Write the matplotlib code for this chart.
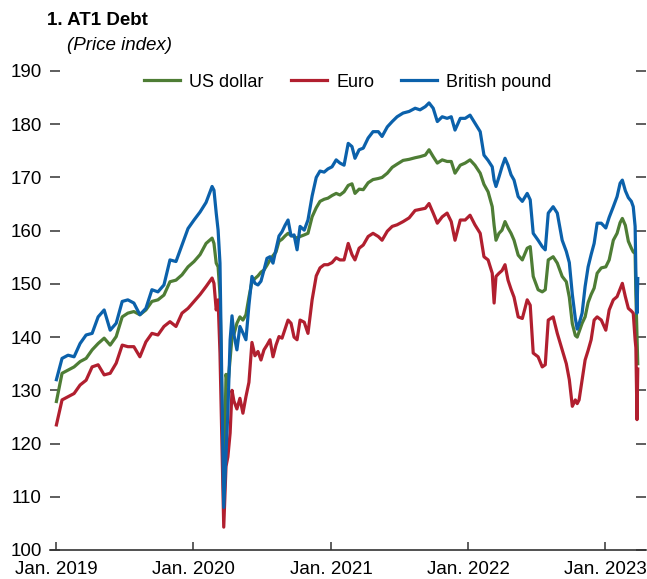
import matplotlib
matplotlib.use("Agg")
import matplotlib.pyplot as plt
import matplotlib.dates as mdates
import pandas as pd

plt.rcParams['font.family'] = ['Liberation Sans Narrow', 'Liberation Sans', 'DejaVu Sans']

# AT1 debt price index
dates = [
    "2019-01-02", "2019-01-17", "2019-02-02", "2019-02-18", "2019-03-06", "2019-03-22",
    "2019-04-07", "2019-04-23", "2019-05-09", "2019-05-25", "2019-06-10", "2019-06-26",
    "2019-07-11", "2019-07-27", "2019-08-12", "2019-08-28", "2019-09-13", "2019-09-29",
    "2019-10-15", "2019-10-31", "2019-11-16", "2019-12-02", "2019-12-18", "2020-01-03",
    "2020-01-19",
    "2020-02-04", "2020-02-20", "2020-02-25", "2020-03-02", "2020-03-07", "2020-03-12",
    "2020-03-22", "2020-03-28", "2020-04-02", "2020-04-08", "2020-04-13", "2020-04-18",
    "2020-04-26", "2020-05-04", "2020-05-12", "2020-05-20", "2020-05-28", "2020-06-05",
    "2020-06-13", "2020-06-21", "2020-06-29", "2020-07-07", "2020-07-15", "2020-07-23",
    "2020-07-31", "2020-08-08", "2020-08-16", "2020-08-24", "2020-09-01", "2020-09-09",
    "2020-09-17", "2020-09-25", "2020-10-03", "2020-10-11", "2020-10-22", "2020-11-01",
    "2020-11-12", "2020-11-23", "2020-12-03", "2020-12-14", "2020-12-24", "2021-01-04",
    "2021-01-15", "2021-01-25",
    "2021-02-05", "2021-02-16", "2021-02-26", "2021-03-06", "2021-03-17", "2021-03-28",
    "2021-04-10", "2021-04-23", "2021-05-07", "2021-05-17", "2021-05-31", "2021-06-13",
    "2021-06-26", "2021-07-12", "2021-07-28", "2021-08-13", "2021-08-26", "2021-09-09",
    "2021-09-19", "2021-09-30", "2021-10-11", "2021-10-24", "2021-11-06", "2021-11-17",
    "2021-11-27", "2021-12-11", "2021-12-24", "2022-01-06", "2022-01-19", "2022-02-02",
    "2022-02-12", "2022-02-23", "2022-03-06", "2022-03-11", "2022-03-16", "2022-03-24",
    "2022-04-01", "2022-04-09", "2022-04-17", "2022-04-25", "2022-05-03", "2022-05-14",
    "2022-05-25", "2022-06-07", "2022-06-15", "2022-06-23", "2022-07-06", "2022-07-17",
    "2022-07-25", "2022-08-02", "2022-08-15", "2022-08-26", "2022-09-08", "2022-09-19",
    "2022-09-27", "2022-10-05", "2022-10-13", "2022-10-18", "2022-10-23", "2022-10-31",
    "2022-11-08", "2022-11-16", "2022-11-24", "2022-12-02", "2022-12-10", "2022-12-21",
    "2023-01-02", "2023-01-11", "2023-01-22", "2023-02-01", "2023-02-09", "2023-02-15",
    "2023-02-23", "2023-03-03", "2023-03-11", "2023-03-16", "2023-03-21", "2023-03-23",
    "2023-03-26", "2023-03-28",
]

gbp = [
    132.0, 136.0, 136.6, 136.3, 138.8, 140.4, 140.7, 143.8, 145.1, 141.3, 142.6, 146.7,
    147.0, 146.4, 144.2, 145.4, 148.9, 148.5, 149.8, 154.5, 154.2, 157.3, 160.4, 162.0,
    163.5,
    165.3, 168.3, 167.6, 163.3, 160.1, 153.9, 108.0, 118.0, 126.0, 139.5, 144.0, 140.5,
    137.6, 142.0, 140.8, 139.5, 146.0, 151.4, 150.1, 149.8, 150.5, 152.6, 154.8, 155.1,
    153.9, 156.5, 159.0, 159.8, 161.0, 162.0, 159.0, 159.2, 156.4, 160.8, 160.1, 162.0,
    166.5, 170.0, 171.2, 171.0, 171.6, 172.0, 173.3, 172.7,
    172.3, 176.4, 175.8, 173.6, 175.2, 175.5, 177.4, 178.6, 178.6, 177.7, 179.5, 180.5,
    181.4, 182.1, 182.4, 183.0, 182.7, 183.3, 184.0, 183.0, 180.5, 181.4, 181.1, 181.4,
    178.9, 181.1, 181.1, 181.7, 180.2, 178.6,
    174.2, 173.2, 172.0, 169.5, 168.3, 170.1, 172.0, 173.6, 172.3, 170.5, 169.5, 166.4,
    165.5, 167.0, 165.8, 159.5, 158.2, 157.0, 156.4, 163.3, 164.5, 163.3, 158.2, 156.1,
    154.0, 148.0, 143.5, 141.5, 142.5, 144.5, 149.5, 153.2, 155.5, 157.6, 161.4, 161.4,
    160.5, 162.5, 164.5, 166.4, 168.9, 169.5, 167.5, 166.2, 165.5, 164.5, 160.8, 152.0,
    144.5, 151.0,
]

usd = [
    127.9, 133.2, 133.8, 134.4, 135.4, 136.0, 137.6, 138.8, 139.8, 138.5, 140.1, 143.8,
    144.5, 144.8, 144.2, 145.1, 146.7, 147.0, 147.9, 150.4, 150.7, 151.7, 153.2, 154.2,
    155.5,
    157.6, 158.6, 157.6, 153.9, 153.2, 148.0, 109.5, 133.0, 131.0, 136.0, 140.0, 140.5,
    142.6, 143.8, 143.2, 144.2, 147.5, 150.4, 151.0, 151.5, 152.2, 152.6, 153.5, 154.5,
    155.3, 156.0, 158.0, 158.4, 159.0, 159.5, 159.1, 158.9, 158.6, 158.9, 159.2, 159.5,
    162.6, 164.3, 165.5, 165.9, 166.1, 166.6, 167.0, 166.7,
    167.3, 168.5, 168.8, 167.0, 167.8, 167.7, 169.0, 169.6, 169.8, 170.0, 170.8, 171.9,
    172.5, 173.2, 173.4, 173.7, 173.9, 174.2, 175.2, 173.9, 172.7, 173.3, 173.0, 173.0,
    170.8, 172.3, 172.7, 173.3, 172.3, 170.8,
    168.7, 167.3, 164.5, 161.0, 158.2, 159.5, 160.1, 161.7, 160.5, 159.5, 158.2, 155.4,
    154.5, 156.7, 157.0, 151.4, 148.9, 148.5, 148.9, 154.5, 155.1, 153.9, 151.4, 150.4,
    147.5, 142.5, 140.3, 140.0, 141.0, 142.6, 143.8, 146.5, 148.0, 149.2, 152.0, 153.0,
    153.2, 154.5, 158.2, 159.5, 161.5, 162.3, 161.0, 158.0, 156.7, 156.0, 155.7, 148.0,
    140.0, 135.0,
]

eur = [
    123.5, 128.2, 128.8, 129.4, 131.0, 131.9, 134.4, 134.8, 132.9, 133.2, 135.1, 138.5,
    138.2, 138.2, 136.3, 139.1, 140.7, 140.4, 142.0, 142.9, 142.0, 144.5, 145.4, 146.7,
    148.0,
    149.5, 151.1, 150.1, 145.1, 147.0, 137.0, 104.3, 115.7, 117.5, 122.0, 130.0, 128.0,
    126.5, 128.5, 125.7, 128.8, 131.5, 139.0, 136.5, 137.3, 135.7, 137.6, 138.5, 139.5,
    136.3, 138.5, 140.1, 139.8, 141.5, 143.2, 142.6, 140.0, 139.5, 143.2, 142.8, 140.7,
    147.0, 151.5, 153.0, 153.6, 153.6, 154.0, 154.9, 154.5,
    154.5, 157.6, 155.5, 154.5, 156.7, 157.3, 158.9, 159.5, 158.9, 158.2, 159.9, 160.8,
    161.1, 161.7, 162.4, 163.8, 164.0, 164.2, 165.1, 163.3, 161.4, 162.6, 163.3, 161.7,
    158.2, 162.0, 162.0, 162.9, 161.1, 159.5,
    155.1, 154.5, 152.0, 146.4, 151.4, 152.0, 152.5, 153.6, 150.7, 149.0, 147.5, 143.8,
    143.5, 147.0, 146.0, 137.0, 136.3, 134.4, 134.8, 143.2, 143.8, 140.7, 137.6, 135.0,
    132.0, 127.0, 128.2, 127.5, 128.2, 131.9, 135.7, 137.5, 139.5, 143.2, 143.8, 143.2,
    141.3, 145.1, 147.0, 147.6, 149.0, 150.1, 147.6, 145.4, 144.9, 144.5, 139.5, 138.0,
    124.5, 134.0,
]

labels = ["US dollar", "Euro", "British pound"]
colors = ["#4E7D35", "#B11F2F", "#0B61AB"]

x = pd.to_datetime(dates)

fig = plt.figure(figsize=(6.47, 5.79), dpi=100)
ax = fig.add_axes([0.0773, 0.0501, 0.9212, 0.8273])

for vals, lab, col in zip([usd, eur, gbp], labels, colors):
    ax.plot(x, vals, color=col, lw=2.3, label=lab, solid_joinstyle='round')

ax.set_ylim(100, 190)
ax.set_yticks(range(100, 191, 10))
ax.set_xlim(pd.Timestamp("2018-12-16"), pd.Timestamp("2023-04-19"))
ax.xaxis.set_major_locator(mdates.YearLocator())
ax.xaxis.set_major_formatter(mdates.DateFormatter("Jan. %Y"))

for s in ["top", "left", "right"]:
    ax.spines[s].set_visible(False)
ax.spines["bottom"].set_linewidth(1.2)
ax.spines["bottom"].set_color("#333333")

ax.tick_params(axis="y", direction="in", length=7, width=1.1, color="#333333",
               labelsize=13.5, pad=6, right=True, left=True)
ax.tick_params(axis="x", direction="in", length=6, width=1.1, color="#333333",
               labelsize=13.5, pad=8)

ax.legend(loc="center", bbox_to_anchor=(0.5, 0.977), ncol=3, frameon=False,
          fontsize=13, handlelength=2.0, columnspacing=1.5, handletextpad=0.5)

fig.text(0.073, 0.965, "1. AT1 Debt", fontsize=13.5, fontweight="bold", va="center")
fig.text(0.103, 0.921, "(Price index)", fontsize=13.5, style="italic", va="center")

fig.savefig("out.png", dpi=100)
